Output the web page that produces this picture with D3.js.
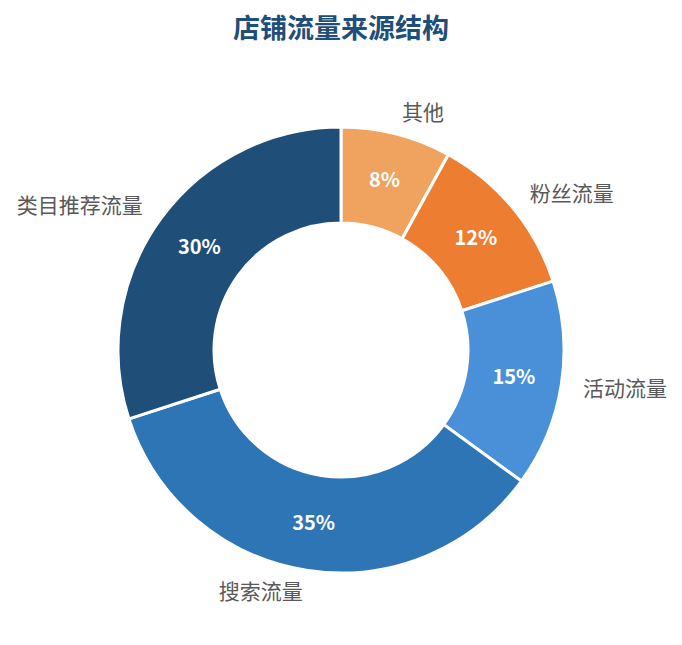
<!DOCTYPE html>
<html lang="zh">
<head>
<meta charset="utf-8">
<title>店铺流量来源结构</title>
<script src="https://cdn.jsdelivr.net/npm/d3@7/dist/d3.min.js"></script>
<style>
  body { margin: 0; background: #fff; }
  text { font-family: "Noto Sans CJK SC", "Noto Sans", sans-serif; }
</style>
</head>
<body>
<svg width="682" height="645"></svg>
<script>
// données (sens horaire depuis midi)
var categories = ["其他", "粉丝流量", "活动流量", "搜索流量", "类目推荐流量"];
var values = [8, 12, 15, 35, 30];
var colors = ["#f0a35e", "#ed7d31", "#4a90d9", "#2e75b6", "#1f4e79"];

var svg = d3.select("svg");
var cx = 341, cy = 350;
var rOut = 223, rIn = 127;

svg.append("text")
  .attr("x", cx).attr("y", 38)
  .attr("text-anchor", "middle")
  .attr("font-size", 27)
  .attr("font-weight", "bold")
  .attr("fill", "#1f4e79")
  .text("店铺流量来源结构");

var pie = d3.pie().sort(null).value(function (d) { return d; });
var arcs = pie(values);

var arc = d3.arc().innerRadius(rIn).outerRadius(rOut);
var arcPct = d3.arc().innerRadius(175).outerRadius(175);
var arcLbl = d3.arc().innerRadius(245).outerRadius(245);

var g = svg.append("g").attr("transform", "translate(" + cx + "," + cy + ")");

g.selectAll("path")
  .data(arcs)
  .enter()
    .append("path")
    .attr("d", arc)
    .attr("fill", function (d, i) { return colors[i]; })
    .attr("stroke", "#fff")
    .attr("stroke-width", 3);

g.selectAll("text.pct")
  .data(arcs)
  .enter()
    .append("text")
    .attr("class", "pct")
    .attr("transform", function (d) { return "translate(" + arcPct.centroid(d) + ")"; })
    .attr("text-anchor", "middle")
    .attr("dy", "0.35em")
    .attr("font-size", 20)
    .attr("font-weight", "bold")
    .attr("fill", "#fff")
    .text(function (d) { return d.data + "%"; });

g.selectAll("text.lbl")
  .data(arcs)
  .enter()
    .append("text")
    .attr("class", "lbl")
    .attr("transform", function (d) { return "translate(" + arcLbl.centroid(d) + ")"; })
    .attr("text-anchor", function (d) {
      return arcLbl.centroid(d)[0] >= 0 ? "start" : "end";
    })
    .attr("dy", "0.35em")
    .attr("font-size", 21)
    .attr("fill", "#595959")
    .text(function (d, i) { return categories[i]; });
</script>
</body>
</html>
